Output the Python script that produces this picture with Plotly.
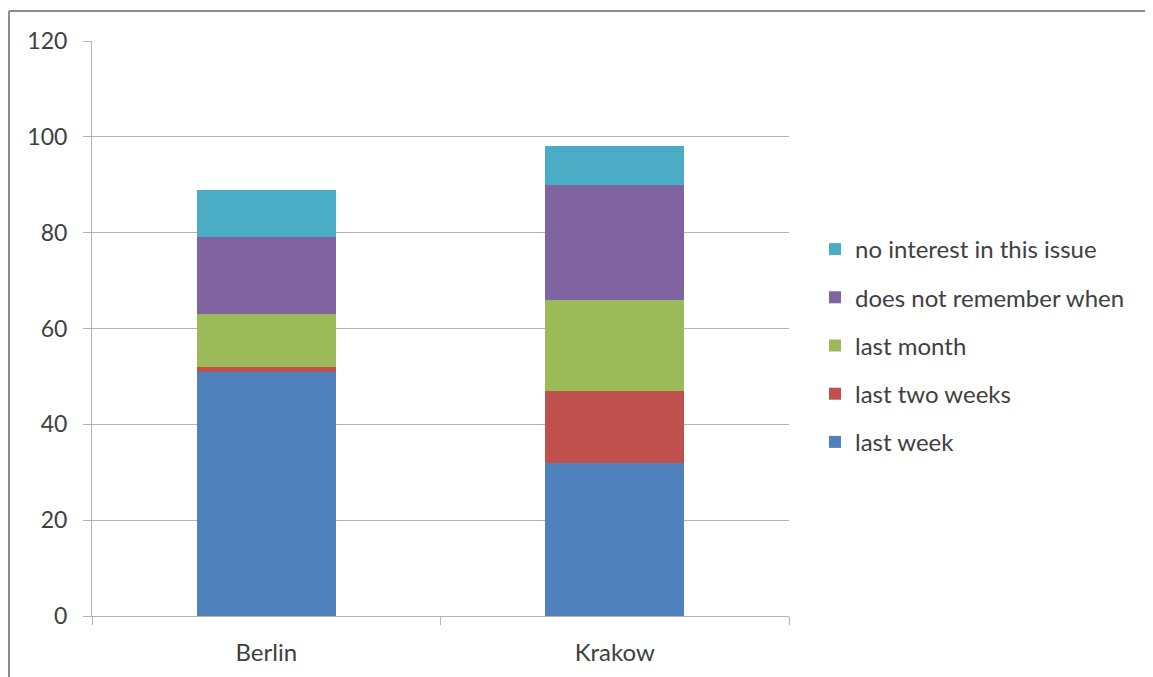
import plotly.graph_objects as go

categories = ["Berlin", "Krakow"]
series_names = ["last week", "last two weeks", "last month",
                "does not remember when", "no interest in this issue"]
last_week = [51, 32]
last_two_weeks = [1, 15]
last_month = [11, 19]
does_not_remember = [16, 24]
no_interest = [10, 8]
colors = ["#4F81BD", "#C0504D", "#9BBB59", "#8064A2", "#4BACC6"]
y_ticks = [0, 20, 40, 60, 80, 100, 120]

values = [last_week, last_two_weeks, last_month, does_not_remember, no_interest]

FONT = "Lato"
fig = go.Figure()
n = len(series_names)
for i, (name, vals, col) in enumerate(zip(series_names, values, colors)):
    fig.add_trace(go.Bar(x=categories, y=vals, name=name, marker_color=col,
                         marker_line_width=0, legendgroup=name,
                         legendrank=(n - i) * 10))

# page has an 8px body margin; work in figure pixel coordinates
OFF = 8
W, H = 1153 - OFF, 677 - OFF
L, T = 92 - OFF, 41 - OFF
R = W - (789 - OFF)
B = H - (616 - OFF)
pw = W - L - R
ph = H - T - B

def px_x(p):
    return (p - OFF - L) / pw

def px_y(p):
    return (H - B - (p - OFF)) / ph

fig.update_layout(
    width=W, height=H,
    barmode="stack", bargap=0.6,
    margin=dict(l=L, r=R, t=T, b=B, autoexpand=False),
    plot_bgcolor="white", paper_bgcolor="white",
    font=dict(family=FONT, size=24, color="#404040"),
    legend=dict(traceorder="grouped", x=px_x(815), xanchor="left",
                y=px_y(227), yanchor="top", tracegroupgap=14,
                font=dict(family=FONT, size=24, color="#404040"),
                bgcolor="rgba(0,0,0,0)"),
    xaxis=dict(showgrid=False, showline=True, linecolor="#b3b3b3", linewidth=1,
               ticks="outside", ticklen=8, tickcolor="#b3b3b3", tickson="boundaries",
               tickfont=dict(family=FONT, size=24, color="#404040"),
               ticklabelstandoff=15),
    yaxis=dict(range=[0, 120], tickvals=y_ticks, showgrid=True, gridcolor="#b3b3b3",
               gridwidth=1, showline=True, linecolor="#b3b3b3", linewidth=1,
               ticks="outside", ticklen=8, tickcolor="#b3b3b3",
               tickfont=dict(family=FONT, size=23, color="#404040"),
               ticklabelstandoff=11, zeroline=False),
    shapes=[
        dict(type="line", xref="paper", yref="paper", x0=px_x(9), x1=px_x(1170),
             y0=px_y(11), y1=px_y(11), line=dict(color="#8c8c8c", width=2)),
        dict(type="line", xref="paper", yref="paper", x0=px_x(9), x1=px_x(9),
             y0=px_y(11), y1=px_y(700), line=dict(color="#8c8c8c", width=2)),
    ],
)

fig.write_html("out.html")
